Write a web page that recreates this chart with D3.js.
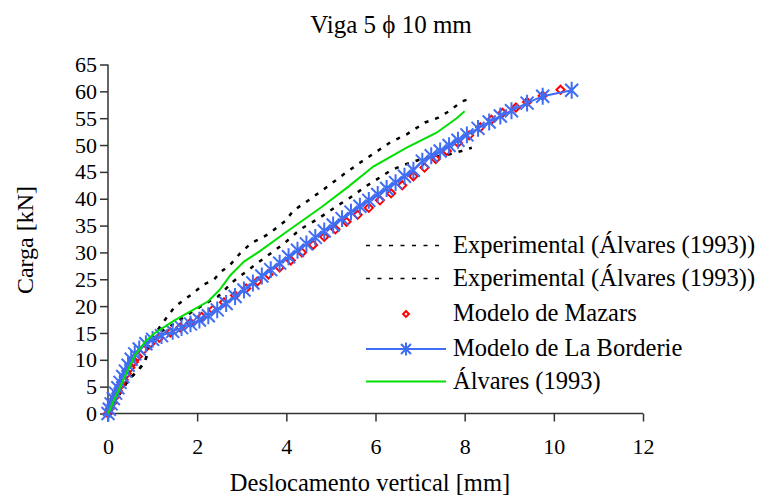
<!DOCTYPE html>
<html>
<head>
<meta charset="utf-8">
<script src="https://cdn.jsdelivr.net/npm/d3@7"></script>
<style>
html,body{margin:0;padding:0;background:#fff;}
svg{display:block;font-family:"Liberation Serif","Times New Roman",serif;}
</style>
</head>
<body>
<svg id="chart" width="767" height="498"></svg>
<script>
// ---------- data ----------
const titleText = "Viga 5 ϕ 10 mm";
const xLabel = "Deslocamento vertical [mm]";
const yLabel = "Carga [kN]";
const xTicks = [0, 2, 4, 6, 8, 10, 12];
const yTicks = [0, 5, 10, 15, 20, 25, 30, 35, 40, 45, 50, 55, 60, 65];
const seriesNames = ["Experimental (Álvares (1993))", "Experimental (Álvares (1993))", "Modelo de Mazars", "Modelo de La Borderie", "Álvares (1993)"];

// Experimental test 1 (upper)
const exp1X = [0, 0.2, 0.46, 0.65, 0.83, 0.94, 1.17, 1.39, 1.5, 1.91, 2.14, 2.37, 2.55, 2.74, 2.96, 3.22, 3.45, 3.63, 3.97, 4.16, 4.53, 4.83, 5.28, 5.65, 6.1, 6.33, 6.7, 7.11, 7.41, 7.67, 7.93, 8.14];
const exp1Y = [0, 2.8, 6.3, 7.8, 9.6, 13.3, 16.2, 18.7, 19.9, 22.4, 24.0, 24.9, 26.5, 27.7, 29.8, 31.8, 32.7, 33.6, 35.8, 37.8, 39.9, 41.7, 44.5, 46.7, 49.2, 50.5, 52.0, 54.2, 55.1, 56.4, 58.1, 58.7];
// Experimental test 2 (lower)
const exp2X = [0, 0.2, 0.46, 0.65, 0.83, 0.94, 1.2, 1.5, 1.84, 2.21, 2.47, 2.81, 3.3, 3.71, 3.97, 4.31, 4.68, 5.13, 5.43, 5.8, 6.03, 6.33, 6.6, 7.0, 7.3, 7.67, 7.93, 8.16];
const exp2Y = [0, 2.8, 6.3, 7.8, 9.6, 13.0, 15.3, 16.8, 18.7, 20.6, 21.8, 24.6, 27.7, 30.2, 31.8, 34.3, 36.1, 38.6, 40.2, 42.4, 43.6, 45.2, 46.2, 47.3, 47.8, 48.3, 48.9, 49.5];
// Modelo de Mazars
const mazX = [0, 0.05, 0.1, 0.16, 0.22, 0.28, 0.35, 0.42, 0.5, 0.58, 0.67, 0.8, 0.95, 1.15, 1.4, 1.62, 1.85, 2.1, 2.35, 2.6, 2.85, 3.1, 3.35, 3.6, 3.85, 4.1, 4.35, 4.6, 4.85, 5.1, 5.35, 5.6, 5.85, 6.1, 6.35, 6.6, 6.85, 7.1, 7.35, 7.6, 7.85, 8.1, 8.35, 8.6, 8.85, 9.15, 9.4, 9.75, 10.15];
const mazY = [0, 1.0, 2.0, 3.1, 4.2, 5.2, 6.3, 7.4, 8.5, 9.6, 10.6, 11.9, 13.0, 14.1, 15.1, 16.0, 16.9, 18.0, 19.3, 20.7, 22.0, 23.3, 24.6, 25.9, 27.2, 28.5, 30.0, 31.4, 32.9, 34.3, 35.7, 37.0, 38.3, 39.7, 41.0, 42.5, 44.2, 45.8, 47.4, 48.9, 50.4, 51.8, 53.3, 54.7, 56.0, 57.0, 58.0, 59.2, 60.3];
// Modelo de La Borderie
const labX = [0, 0.03, 0.07, 0.12, 0.17, 0.22, 0.27, 0.33, 0.39, 0.45, 0.52, 0.6, 0.7, 0.85, 1.0, 1.2, 1.45, 1.65, 1.85, 2.05, 2.25, 2.45, 2.65, 2.85, 3.05, 3.25, 3.45, 3.65, 3.85, 4.05, 4.25, 4.45, 4.65, 4.85, 5.05, 5.25, 5.45, 5.65, 5.85, 6.05, 6.25, 6.45, 6.65, 6.85, 7.05, 7.25, 7.45, 7.65, 7.85, 8.05, 8.3, 8.55, 8.8, 9.05, 9.4, 9.75, 10.4];
const labY = [0, 0.8, 1.8, 2.8, 3.8, 4.8, 5.8, 6.9, 7.9, 9.0, 10.1, 11.1, 12.0, 13.0, 13.8, 14.5, 15.3, 16.0, 16.7, 17.4, 18.2, 19.3, 20.5, 21.8, 23.0, 24.3, 25.6, 26.8, 28.0, 29.2, 30.4, 31.6, 32.8, 34.0, 35.1, 36.3, 37.5, 38.6, 39.7, 40.8, 41.9, 43.0, 44.2, 45.3, 47.0, 48.0, 48.9, 49.9, 50.9, 51.9, 53.1, 54.3, 55.4, 56.4, 57.8, 59.1, 60.2];
// Álvares (1993) numerical
const alvX = [0, 0.3, 0.6, 0.85, 1.05, 1.5, 1.95, 2.25, 2.5, 2.75, 3.05, 3.4, 4.0, 4.8, 5.4, 5.95, 6.7, 7.37, 7.82, 8.0];
const alvY = [0, 5.5, 10.8, 13.5, 15.0, 17.4, 19.5, 20.9, 23.0, 25.8, 28.3, 30.2, 33.8, 38.5, 42.3, 46.0, 49.5, 52.3, 55.0, 56.3];

// ---------- layout ----------
const svg = d3.select("#chart");
const x = d3.scaleLinear().domain([0, 12]).range([108, 643]);
const y = d3.scaleLinear().domain([0, 65]).range([413.5, 64.5]);
const zip = (xs, ys) => xs.map((v, i) => [v, ys[i]]);
const line = d3.line().x(d => x(d[0])).y(d => y(d[1]));

const BLUE = "#3F6DF4", RED = "#FF0000", GREEN = "#00E000";

// title
svg.append("text").attr("x", 391).attr("y", 33).attr("text-anchor", "middle")
  .attr("font-size", 25).attr("fill", "#000").text(titleText);

// axes
const gx = svg.append("g").attr("transform", `translate(0,${y(0)})`)
  .call(d3.axisBottom(x).tickValues(xTicks).tickSize(8).tickPadding(17).tickFormat(d3.format("d")));
const gy = svg.append("g").attr("transform", `translate(${x(0)},0)`)
  .call(d3.axisLeft(y).tickValues(yTicks).tickSize(8).tickPadding(3).tickFormat(d3.format("d")));
[gx, gy].forEach(g => {
  g.select(".domain").attr("stroke", "#333").attr("stroke-width", 1.5);
  g.selectAll(".tick line").attr("stroke", "#333").attr("stroke-width", 1.5);
  g.selectAll(".tick text").attr("font-size", 22).attr("fill", "#000")
    .attr("font-family", "Liberation Serif, Times New Roman, serif");
});
gx.select(".domain").attr("d", `M${x(0)},0H${x(12)}`);
gy.select(".domain").attr("d", `M0,${y(0)}V${y(65)}`);

svg.append("text").attr("x", 370).attr("y", 491).attr("text-anchor", "middle")
  .attr("font-size", 24.5).text(xLabel);
svg.append("text").attr("transform", "translate(33,240) rotate(-90)").attr("text-anchor", "middle")
  .attr("font-size", 24).text(yLabel);

// series
const plot = svg.append("g");
plot.append("path").datum(zip(exp1X, exp1Y)).attr("d", line)
  .attr("fill", "none").attr("stroke", "#000").attr("stroke-width", 2.5).attr("stroke-dasharray", "4,7");
plot.append("path").datum(zip(exp2X, exp2Y)).attr("d", line)
  .attr("fill", "none").attr("stroke", "#000").attr("stroke-width", 2.5).attr("stroke-dasharray", "4,7");

const diamond = d3.symbol().type(d3.symbolDiamond2).size(42);
plot.selectAll(".maz").data(zip(mazX, mazY)).join("path").attr("class", "maz")
  .attr("transform", d => `translate(${x(d[0])},${y(d[1])})`)
  .attr("d", diamond).attr("fill", "none").attr("stroke", RED).attr("stroke-width", 2);

plot.append("path").datum(zip(labX, labY)).attr("d", line)
  .attr("fill", "none").attr("stroke", BLUE).attr("stroke-width", 2);

function star(g, cx, cy, r) {
  const p = `M${-r},${-r}L${r},${r}M${-r},${r}L${r},${-r}M0,${-r * 1.3}V${r * 1.3}`;
  g.append("path").attr("transform", `translate(${cx},${cy})`).attr("d", p)
    .attr("stroke", BLUE).attr("stroke-width", 2).attr("fill", "none");
}
const starG = plot.append("g");
zip(labX, labY).forEach(d => star(starG, x(d[0]), y(d[1]), 6.5));

plot.append("path").datum(zip(alvX, alvY)).attr("d", line)
  .attr("fill", "none").attr("stroke", GREEN).attr("stroke-width", 2);

// legend
const lg = svg.append("g");
const rows = [245.5, 278.5, 314, 349, 381.5];
const lx0 = 366, lx1 = 446, tx = 453;
lg.append("line").attr("x1", lx0).attr("x2", lx1).attr("y1", rows[0]).attr("y2", rows[0])
  .attr("stroke", "#000").attr("stroke-width", 1.5).attr("stroke-dasharray", "4,7.5");
lg.append("line").attr("x1", lx0).attr("x2", lx1).attr("y1", rows[1]).attr("y2", rows[1])
  .attr("stroke", "#000").attr("stroke-width", 1.5).attr("stroke-dasharray", "4,7.5");
lg.append("path").attr("transform", `translate(${(lx0 + lx1) / 2},${rows[2]})`)
  .attr("d", d3.symbol().type(d3.symbolDiamond2).size(22)).attr("fill", "none").attr("stroke", RED).attr("stroke-width", 2);
lg.append("line").attr("x1", lx0).attr("x2", lx1).attr("y1", rows[3]).attr("y2", rows[3])
  .attr("stroke", BLUE).attr("stroke-width", 2);
star(lg, (lx0 + lx1) / 2, rows[3], 5);
lg.append("line").attr("x1", lx0).attr("x2", lx1).attr("y1", rows[4]).attr("y2", rows[4])
  .attr("stroke", GREEN).attr("stroke-width", 2);
seriesNames.forEach((n, i) => {
  lg.append("text").attr("x", tx).attr("y", rows[i]).attr("dy", "0.3em")
    .attr("font-size", 24.5).attr("fill", "#000").text(n);
});
</script>
</body>
</html>
